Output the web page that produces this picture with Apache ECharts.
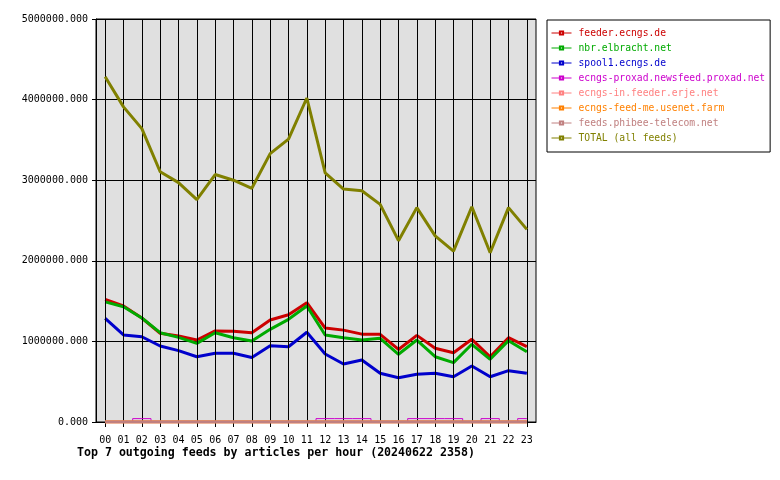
<!DOCTYPE html>
<html>
<head>
<meta charset="utf-8">
<script src="https://cdn.jsdelivr.net/npm/echarts@6/dist/echarts.min.js"></script>
<style>
html,body{margin:0;padding:0;background:#fff;}
#c{width:780px;height:480px;}
</style>
</head>
<body>
<div id="c"></div>
<script>
const hours = ['00','01','02','03','04','05','06','07','08','09','10','11','12','13','14','15','16','17','18','19','20','21','22','23'];
const seriesNames = ['feeder.ecngs.de','nbr.elbracht.net','spool1.ecngs.de','ecngs-proxad.newsfeed.proxad.net','ecngs-in.feeder.erje.net','ecngs-feed-me.usenet.farm','feeds.phibee-telecom.net','TOTAL (all feeds)'];
const seriesColors = ['#cc0000','#00aa00','#0000cc','#cc00cc','#ff8080','#ff8000','#c08080','#808000'];
const feeder = [1522000,1440000,1290000,1100000,1067000,1017000,1130000,1125000,1108000,1265000,1330000,1480000,1166000,1140000,1090000,1088000,900000,1075000,914000,860000,1026000,810000,1046000,934000];
const nbr = [1490000,1430000,1290000,1108000,1050000,976000,1108000,1046000,1005000,1150000,1274000,1440000,1080000,1046000,1017000,1038000,840000,1017000,810000,736000,964000,778000,1009000,872000];
const spool1 = [1287000,1080000,1058000,943000,885000,810000,852000,852000,800000,947000,934000,1113000,844000,720000,770000,604000,550000,592000,604000,562000,695000,562000,637000,604000];
const proxad = [0,0,42000,0,0,0,0,0,0,0,0,0,42000,42000,42000,0,0,42000,42000,42000,0,42000,0,42000];
const erje = [0,0,0,0,0,0,0,0,0,0,0,0,0,0,0,0,0,0,0,0,0,0,0,0];
const usenetFarm = [0,0,0,0,0,0,0,0,0,0,0,0,0,0,0,0,0,0,0,0,0,0,0,0];
const phibee = [0,0,0,0,0,0,0,0,0,0,0,0,0,0,0,0,0,0,0,0,0,0,0,0];
const total = [4284000,3910000,3640000,3105000,2970000,2760000,3070000,3000000,2900000,3330000,3510000,4020000,3090000,2890000,2870000,2700000,2250000,2660000,2310000,2120000,2670000,2100000,2660000,2390000];
const titleText = 'Top 7 outgoing feeds by articles per hour (20240622 2358)';
const yMax = 5000000, yInterval = 1000000;

const allData = [feeder, nbr, spool1, proxad, erje, usenetFarm, phibee, total];
const MONO = '"DejaVu Sans Mono", "Liberation Mono", monospace';

const chart = echarts.init(document.getElementById('c'), null, {renderer:'canvas'});
const series = allData.map((d, i) => ({
  name: seriesNames[i],
  type: 'line',
  data: d,
  color: seriesColors[i],
  showSymbol: false,
  symbol: 'emptyRect',
  symbolSize: 4,
  step: i === 3 ? 'middle' : false,
  lineStyle: {width: i === 3 ? 1 : 3, color: seriesColors[i]},
  z: 2 + i,
  animation: false
}));
series.unshift({
  name: '_grid',
  type: 'line',
  data: [],
  z: 0,
  silent: true,
  animation: false,
  markLine: {
    silent: true,
    symbol: 'none',
    label: {show: false},
    animation: false,
    lineStyle: {color: '#000', width: 1, type: 'solid'},
    data: hours.map(h => ({xAxis: h}))
  }
});

chart.setOption({
  backgroundColor: '#ffffff',
  animation: false,
  title: {
    text: titleText,
    left: 77, top: 447,
    padding: 0,
    textStyle: {fontFamily: MONO, fontWeight: 'bold', fontSize: 11.6, color: '#000'}
  },
  legend: {
    orient: 'vertical',
    left: 547, top: 20,
    padding: [8, 5, 9, 4],
    itemGap: 5,
    itemWidth: 20,
    itemHeight: 4,
    borderColor: '#000',
    borderWidth: 1,
    selectedMode: false,
    lineStyle: {width: 1},
    textStyle: {fontFamily: MONO, fontSize: 9.7, padding: [0,0,0,2]},
    data: seriesNames.map((n, i) => ({name: n, textStyle: {color: seriesColors[i]}}))
  },
  grid: {
    left: 96, top: 19, width: 440, height: 403,
    show: true, backgroundColor: '#e0e0e0', borderColor: '#000', borderWidth: 1,
    containLabel: false
  },
  xAxis: {
    type: 'category',
    data: hours,
    boundaryGap: true,
    axisLine: {lineStyle: {color: '#000', width: 1}},
    axisTick: {show: true, alignWithLabel: true, length: 5, lineStyle: {color: '#000'}},
    axisLabel: {interval: 0, fontFamily: MONO, fontSize: 10, color: '#000', margin: 13},
    splitLine: {show: false}
  },
  yAxis: {
    type: 'value',
    min: 0, max: yMax, interval: yInterval,
    axisLine: {show: true, lineStyle: {color: '#000', width: 1}},
    axisTick: {show: true, length: 4, lineStyle: {color: '#000'}},
    axisLabel: {fontFamily: MONO, fontSize: 10, color: '#000', margin: 8, formatter: v => v.toFixed(3)},
    splitLine: {show: true, lineStyle: {color: '#000', width: 1}}
  },
  series: series
});
</script>
</body>
</html>
